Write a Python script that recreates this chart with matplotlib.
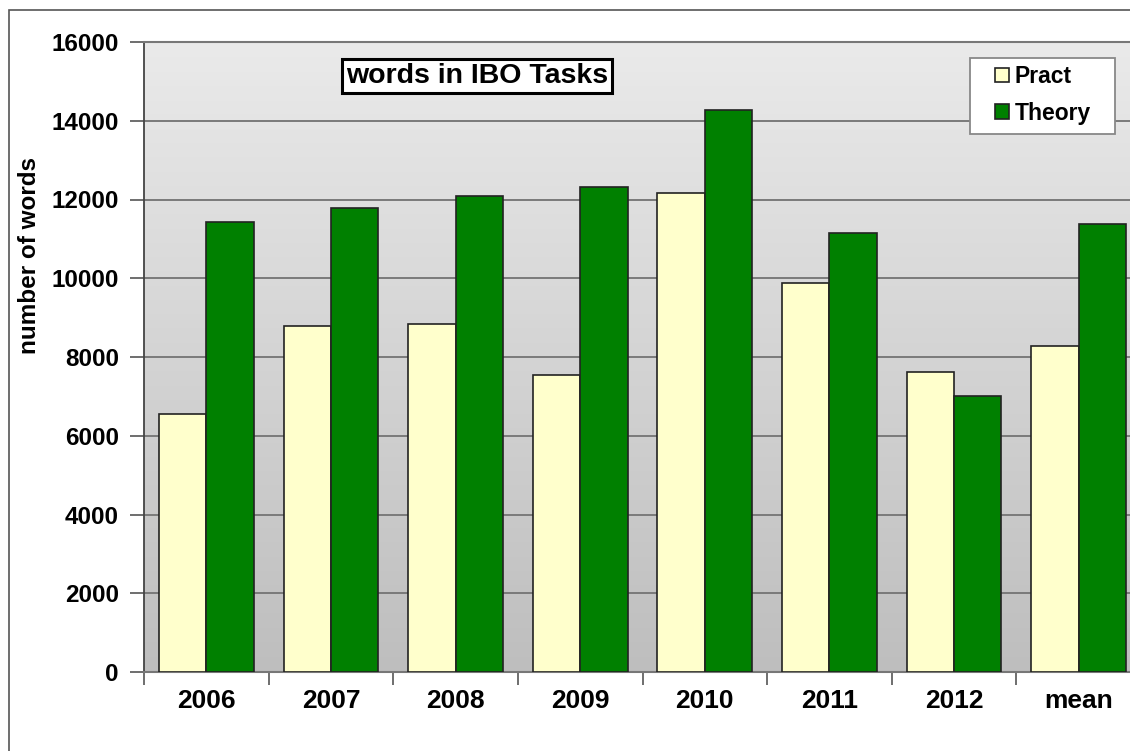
import matplotlib
matplotlib.use('Agg')
import matplotlib.pyplot as plt
import numpy as np
from matplotlib.patches import Rectangle

plt.rcParams['font.family'] = ['Liberation Sans', 'DejaVu Sans']
plt.rcParams['font.weight'] = 'bold'

categories = ['2006', '2007', '2008', '2009', '2010', '2011', '2012', 'mean']
pract = [6560, 8780, 8850, 7540, 12170, 9870, 7620, 8290]
theory = [11420, 11790, 12080, 12330, 14280, 11150, 7000, 11390]

fig = plt.figure(figsize=(11.3, 7.51), dpi=100)
ax = fig.add_axes([144/1130, 79/751, 997/1130, 630/751])

# gradient background
grad = np.linspace(0, 1, 256).reshape(-1, 1)
ax.imshow(grad, extent=[0, 1, 0, 1], transform=ax.transAxes, aspect='auto',
          cmap=matplotlib.colors.LinearSegmentedColormap.from_list('bg', ['#eaeaea', '#bebebe']),
          zorder=0)

x = np.arange(len(categories))
w = 0.38
ax.bar(x - w/2, pract, w, color='#ffffcc', edgecolor='#222222', linewidth=1.2, zorder=3, label='Pract')
ax.bar(x + w/2, theory, w, color='#008000', edgecolor='#222222', linewidth=1.2, zorder=3, label='Theory')

ax.set_xlim(-0.5, len(categories) - 0.5)
ax.set_ylim(0, 16000)
ax.set_yticks(np.arange(0, 16001, 2000))
ax.yaxis.grid(True, color='#7a7a7a', linewidth=1.4, zorder=1)
ax.set_axisbelow(True)

ax.set_xticks(x)
ax.set_xticklabels(categories, fontsize=19, fontweight='bold')
ax.set_xticks(np.arange(-0.5, len(categories)), minor=True)
ax.tick_params(axis='x', which='major', length=0, pad=12)
ax.tick_params(axis='x', which='minor', length=9, width=1.2, color='#555555')
ax.tick_params(axis='y', length=10, width=1.2, color='#555555', labelsize=17.5, pad=8)
for lbl in ax.get_yticklabels():
    lbl.set_fontweight('bold')

ax.spines['right'].set_visible(False)
ax.spines['left'].set_color('#444444')
ax.spines['left'].set_linewidth(1.3)
ax.spines['top'].set_color('#777777')
ax.spines['top'].set_linewidth(1.5)
ax.spines['bottom'].set_color('#777777')
ax.spines['bottom'].set_linewidth(1.5)

fig.text(30/1130, 1 - 255/751, 'number of words', rotation=90, fontsize=17.5,
         fontweight='bold', ha='center', va='center')

fig.text(477/1130, 1 - 76/751, 'words in IBO Tasks', fontsize=20.5, fontweight='bold',
         ha='center', va='center',
         bbox=dict(boxstyle='square,pad=0.15', fc='white', ec='black', lw=2.2))

# legend box drawn separately so the padding matches
fig.patches.append(Rectangle((970/1130, 1 - 134/751), 145/1130, 76/751,
                             transform=fig.transFigure, fc='white', ec='#888888',
                             lw=1.3, zorder=4))
handles, labels = ax.get_legend_handles_labels()
leg = fig.legend(handles, labels, loc='upper left', bbox_to_anchor=(995/1130, 1 - 65/751),
                 fontsize=16.5, frameon=False,
                 handlelength=0.6, handleheight=0.6, handletextpad=0.25,
                 borderpad=0, borderaxespad=0, labelspacing=0.6)
leg.set_zorder(5)
for t in leg.get_texts():
    t.set_fontweight('bold')

fig.patches.append(Rectangle((9/1130, -0.1), 2, 1.1 - 10/751, transform=fig.transFigure,
                             fill=False, ec='#555555', lw=1.2, clip_on=False))

fig.savefig('out.png', dpi=100)
